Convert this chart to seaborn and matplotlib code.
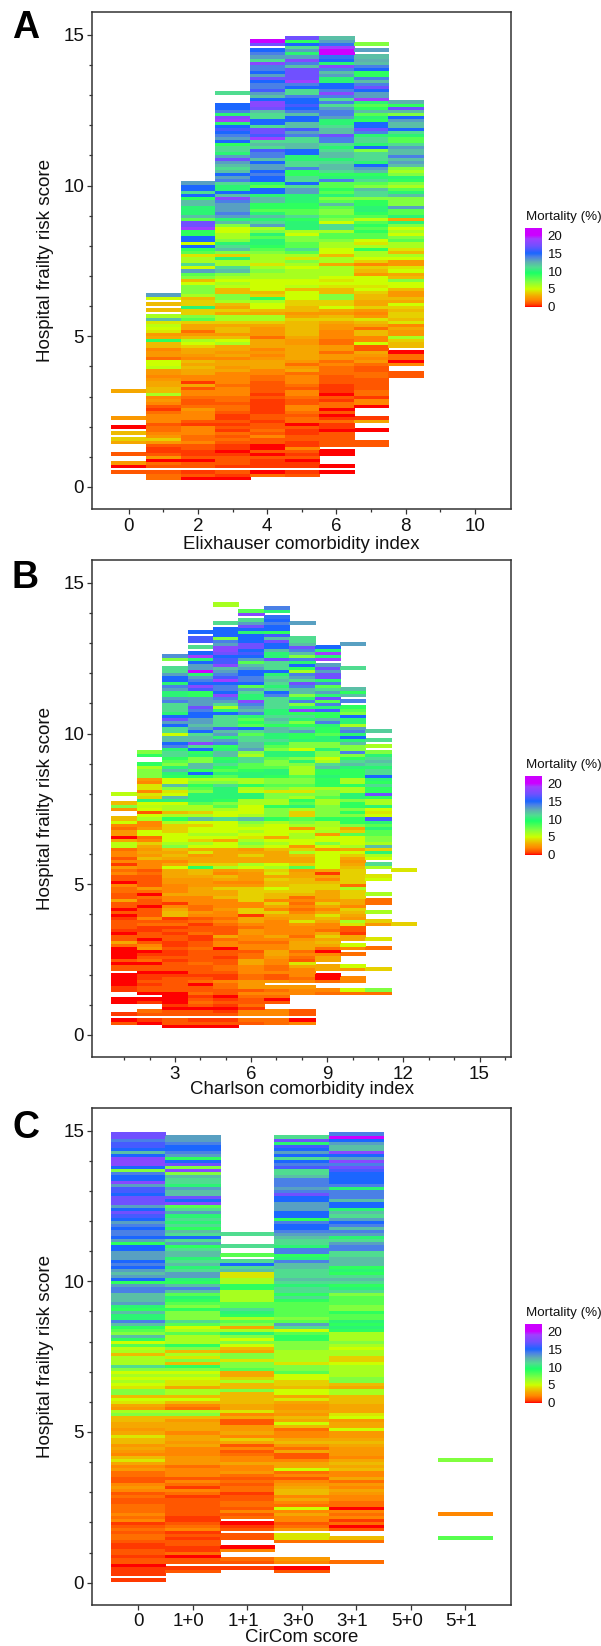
import numpy as np
import pandas as pd
import matplotlib.pyplot as plt
import seaborn as sns
from matplotlib.colors import LinearSegmentedColormap
from matplotlib.transforms import ScaledTranslation

_ = np.nan

# mortality (%) per 0.1 step of frailty score, each line is one score unit
elix_0 = [_,_,_,_,_,1,_,0,2.5,_,
 _,1,_,_,_,3,4,_,3.5,_,
 0,_,_,2.5,_,_,_,_,_,_,
 _,_,3]
elix_1 = [_,_,_,1.5,1.5,1,_,1,1.5,0,
 2.5,1,.5,.5,1,2.5,4,2.5,2,1.5,
 1.5,1,2,2,2,1.5,.5,1,2,2.5,
 2,6,3.5,3.5,3,3,2.5,2,2.5,2.5,
 5.5,5,5,1.5,2.5,2.5,2,3.5,3.5,9,
 3,2.5,4.5,5,5.5,4.5,12,6,_,3.5,
 _,3.5,_,5,13]
elix_2 = [_,_,_,0,1,.5,_,1,1,0,
 1,.5,.5,1,1,2,1.5,1.5,2,2,
 2,.5,1,2,2,2,2.5,1.5,1,1,
 1.5,2,2,1,3,.5,2,2,3,3,
 3.5,3,3.5,2,2.5,3,3,4,5,6,
 3.5,2.5,1.5,3,3,4,8,7,4,4,
 10,4,4,3.5,6,7,7,7,5,3.5,
 7,8,13,5,11,6,6,4.5,8,9,
 15,5,15,15,9,9,19,17,17,8,
 12,10,10,10,12,12,9,15,11,15,
 15,13]
elix_3 = [_,_,_,0,.5,1,_,.5,1,1,
 1,.5,0,.5,.5,1,1.5,1,1.5,.5,
 1,.5,1,.5,.5,1,1.5,1.5,1,1.5,
 1.5,2,2,2,1.5,2,2,2,2,3,
 2.5,3,3,2,3,2.5,3,3,6,5,
 3.5,2.5,3.5,3.5,3,4,6,6,3,4,
 3,3.5,6,7,7,3.5,3.5,5.5,6,5,
 6,7,12,11,6,6,10,4,7,12,
 11,10,7,6,6,5,5,7,12,10,
 13,14,13,13,13,14,18,12,15,10,
 10,11,14,13,15,12,11,12,13,17,
 13,10,11,11,9,15,13,14,15,16,
 15,10,19,18,10,14,15,15,_,_,
 _,11]
elix_4 = [_,_,_,_,1.5,0,_,.5,.5,.5,
 1,0,1,0,0,1,1,2,1,1.5,
 1,1,.5,1,1,.5,.5,.5,.5,.5,
 1,.5,1,1,1,1,1.5,1.5,2,2,
 3,3,3,2.5,2,2.5,2,3,3,3,
 1.5,2.5,2.5,2.5,3,4,6,6,3,3.5,
 5,5,6,9,4,3.5,5,5,5,5,
 6,6,7,6,4.5,6,6,6,7,8,
 9,10,10,8,10,7,6,13,11,10,
 12,10,8,9,9,12,12,10,15,15,
 8,10,15,15,14,15,13,13,15,12,
 14,14,16,11,12,11,19,16,17,17,
 11,15,15,11,11,12,17,18,18,15,
 12,13,16,14,14,15,17,13,15,14,
 14,18,11,13,14,15,_,17,20]
elix_5 = [_,_,_,_,1,.5,_,.5,.5,0,
 1,.5,1,2,.5,.5,1,1,.5,.5,
 1,0,1.5,1.5,1,1.5,2,2,1,1,
 1.5,2,2,1,1.5,2,2,2,1.5,3,
 2.5,1.5,2.5,3,3,3,3,3,2.5,2.5,
 3,3.5,3.5,3.5,3.5,3.5,4,3,2.5,3.5,
 3.5,4,4,5,5,5,3.5,5.5,5,5,
 6,6,6,5,6,7,4.5,6,8,11,
 8,8,7,7,5,6,10,10,10,9,
 11,8,8,9,9,10,10,10,13,13,
 11,15,11,11,9,9,14,11,11,10,
 10,15,15,12,12,11,11,14,13,16,
 12,12,15,15,12,14,15,16,15,15,
 14,11,11,15,14,19,17,17,17,17,
 12,14,18,13,10,13,11,15,9,17]
elix_6 = [_,_,_,_,_,0,_,0,_,_,
 _,0,0,_,1,1,1,1,1,0,
 .5,.5,1.5,.5,0,1,0,1.5,1.5,.5,
 1,0,.5,.5,.5,1,1,1,1.5,1.5,
 1.5,2,1.5,2.5,2.5,1.5,2.5,2.5,1.5,1.5,
 2,2,2,2.5,2.5,3,4,3.5,2.5,3,
 5,4,4,7,7,3.5,3.5,4.5,5,4.5,
 5,6,6,6,3,6,6,3.5,5,5,
 6,6,7,8,8,6,11,11,5,7,
 8,7,7,8,12,8,7,10,8,9,
 8,8,14,10,9,11,12,12,11,10,
 12,12,11,10,11,14,14,17,12,12,
 11,10,10,13,14,14,13,11,14,11,
 14,18,14,15,15,10,10,13,12,14,
 18,10,15,14.5,20,20,19,14.5,13,12]
elix_7 = [_,_,_,_,_,_,_,_,_,_,
 _,_,_,_,1,1,_,_,_,0,
 _,_,3,.5,_,_,_,0,2,2,
 .5,1.5,1.5,1,1,1,1,1.5,1.5,1,
 1,1.5,2.5,2,2.5,3,1,1,5,2,
 2,3.5,3.5,1.5,3,3.5,4.5,2.5,2,2.5,
 4,3,3,3.5,3.5,4,5,4.5,5,5,
 5,2.5,3.5,4,2,4,5,6,6,9,
 6,4.5,5,8,8,9,8,9,8,5.5,
 8,9,10,10,9,9,7,11,11,12,
 7,8,11,10,9,12,13,15,10,11,
 11,11,7,15,10,11,11,10,14,17,
 15,15,9,10,8,12,9,8,10,19,
 13,13,15,17,14,12,14,9,9,15,
 14,12,12.5,12,_,13,_,7]
elix_8 = [_]*37 + [1,1,_,
 _,2,0,1.5,1.5,0,_,3.5,3.5,4,
 6,2.5,2.5,3,2,4.5,3.5,4,4,3.5,
 4,5,3,3.5,2.5,2.5,3.5,5,5,7,
 3.5,3,5,4.5,2.5,2.5,5,6,3.5,4.5,
 6,6,8,7,5,6,5,7,10,3,
 10,8,8,13,7,7,7,12,10,8,
 6,7,9,10,7,6,7,12,13,12,
 14,12,12,13,11,8,8,10,11,15,
 12,12,13,15,7,12,17,9,12.5]

charl_1 = [_,_,_,_,1,0,_,.5,_,_,
 _,0,0,_,_,.5,.5,0,0,0,
 0,_,1,1,0,1,0,0,0,0,
 1.5,3,1,1,0,.5,1,1,1,.5,
 0,1,0,1,1,3,1,1,1.5,1.5,
 2,0,1,1,2,1.5,2.5,.5,2,1,
 2,2,1.5,5.5,5.5,3,0,2.5,2.5,1.5,
 2,5,3.5,_,_,2.5,7,3.5,_,_,
 5.5]
charl_2 = [_,_,_,_,0,.5,_,1,1.5,_,
 _,.5,0,_,0,1,1,.5,1,.5,
 .5,0,1,1,0,1.5,1,.5,0,2.5,
 2,1,0,1,1,.5,.5,1.5,1,2,
 1,1,1,0,1,1,1.5,0,1.5,2.5,
 1,1,1,1,1.5,1,2,2,2,3.5,
 2.5,3,2.5,3,4,2,1.5,5,5,2.5,
 2,2,6,5,1,5,5.5,5,10,4,
 4.5,2,4.5,4.5,2,2.5,7,7,7,6,
 9,_,_,9,7]
charl_3 = [_,_,_,0,1,1,_,1,1,0,
 .5,0,0,0,0,1,1,1,1,1,
 .5,0,1,1,1,.5,1,.5,.5,1,
 .5,.5,1,1,.5,1,.5,1.5,1,.5,
 3.5,3.5,3,2,.5,2,2,3,2,2,
 2,2.5,2.5,3,3,3,5,3,2,3,
 3.5,3,3.5,7,6,5,5,5,4,4,
 4,6,9,6,3.5,6,6,5,10,12,
 5,4.5,7,12,5,5,9,10,12,10,
 7,8,9,11,11,10,14,15,12,12,
 5,11,11,15,13,17,15,10,11,11,
 11,14,13,10,10,13,14,10,15,15,
 13,11,11,_,_,7,13.5]
charl_4 = [_,_,_,0,1,.5,_,1,1,0,
 1,1.5,1,.5,1.5,1,1,0,1.5,1,
 .5,1,1,1,1.5,1,1,1,1,1.5,
 1,1,.5,.5,1.5,1,1,.5,1.5,1,
 2,2.5,1.5,1.5,2,2,2,3,3,3,
 2.5,2.5,2.5,3,3.5,3.5,9,4,3,3,
 2.5,4.5,3,5,6,4,5,6,5,5,
 4,5,12,6,4,6,6,8,10,10,
 10,7,8,9,7,6,9,15,9,12,
 12,7,7,10,9,15,11,18,12,12,
 11,15,13,12,13,13,15,15,14,17,
 13,13,13,9,9,16,18,15,14,13,
 10,20,13,13,15,10,19,15,_,11,
 _,16,16,_,15]
charl_5 = [_,_,_,0,1,.5,_,1,.5,0,
 .5,1,.5,0,1,1,1.5,1.5,2,.5,
 .5,1,1.5,1.5,1,1,.5,1,1,0,
 2,2,1.5,3,1,1,1,1.5,2,1.5,
 2,2,2.5,2,2,2,3.5,3,3,4,
 2.5,2,3,3.5,2,2.5,6,4,3,3,
 3,3,3,5,5,3,5,6,5,5,
 5,5,11,5,5,6,8,7,9,10,
 10,10,10,11,7,6,8,10,8,9,
 11,10,9,12,12,10,9,14,13,10,
 13,12,16,11,11,11,11,15,10,6,
 11,13,14,18,15,14,14,15,19,16,
 14,13,12,18,16,16,15,17,18,18,
 13,14,7,15,15,15,_,11,_,_,
 _,_,_,6]
charl_6 = [_,_,_,_,1,1.5,_,2,2,.5,
 1.5,1,1,1.5,2,1,2.5,2.5,2.5,1.5,
 1.5,2,2,2,3,3,1.5,1.5,1,2,
 2,1.5,2,2,2.5,2.5,1.5,2,3,3,
 .5,4,4,2,2,4,4,4,4,4,
 2.5,2,2.5,2.5,2.5,3,5,6,3,3,
 4,3,2.5,6,7,6,4.5,5,6,5,
 6,7,12,6,5,5,5,6,6,10,
 10,5.5,6,9,6,6,10,10,9,8,
 8,11,11,6,7,13,12,12,11,11,
 8,11,15,8,9,8,10,14,12,13,
 14,18,10,10,11,13,8,15,14,14,
 15,15,13,12,8,13,15,16,15,17,
 17,15,15,15,10,15,17,13,11,_,
 18,8]
charl_7 = [_,_,_,_,1.5,1.5,_,2,2,_,
 _,1,0,1.5,2,1.5,2.5,_,2.5,1,
 1,2,1.5,1.5,2,2,2.5,3,3,2,
 2,1.5,2,3,2,2,2,2,2,2.5,
 3,4,2,3,4,2,3.5,3.5,4,5,
 3.5,3.5,4,3,4.5,4,6,5,3,3,
 3,3,3.5,5,6,5,3,5,5,5,
 5,6,9,7,7,7,9,6,6,7,
 7,4.5,7,8,7,7,9,10,10,8,
 7,7,8,10,10,7,8,10,11,10,
 10,12,12,9,11,12,11,10,10,11,
 11,11,11,14,15,11,10,11,12,11,
 10,15,11,11,11,17,10,10,12,15,
 15,17,12,16,9,15,15,14,15,14.5,
 _,10,14]
charl_8 = [_,_,_,_,2,0,_,1,1,_,
 _,_,_,_,2,2,2.5,_,2,1.5,
 2,2,2,3,4.5,1,1.5,2,1.5,3,
 3,3,2.5,1.5,2,2,2,2.5,4.5,3,
 3,2,1.5,2,1.5,2,1.5,3.5,4,4,
 4,3.5,3.5,3,3,2.5,8,4,3,3,
 3.5,6,4,2.5,5,5,6,6,5,2.5,
 6,7,8,4,4,6,10,8,9,6,
 7,4.5,6,8,7,7,8,6,6,6,
 7,10,7,10,10,5,7,7,10,9,
 9,13,11,9,7,10,11,9,18,10,
 7,14,10,7,12,12,14,17,11,13,
 14,6,9,15,10,14,7,12,14,17,
 12,11,11,_,_,_,_,13]
charl_9 = [_]*14 + [1.5,2,_,_,1.5,0,
 0,_,3,3,_,3,3,2,0,1.5,
 3,3.5,3,4,3,1.5,2,2,3,3.5,
 4.5,3,2,3,4,2.5,3,3,3,4,
 4,3.5,2,3,.5,3,5,5,5,5,
 5,5,2.5,5,7,5,5,2.5,6,5.5,
 6,6,9,7,7,7,7,6,6,8,
 7,7,6,9,9,9,10,9,9,12,
 11,6,5,7,7,10,7,7,10,10,
 8,9,9,10,14,12,9,9,16,10,
 14,8,17,10,13,11,8,14,10,17,
 17,13,17,13,_,19,10,19,10,15]
charl_10 = [_]*14 + [1.5,5,_,_,2,2,
 _,_,2.5,5,_,_,_,1.5,_,2,
 5,_,3,3,.5,1,1,4.5,6,2.5,
 3,3.5,4,2,3,3,4,4,4,6,
 1.5,4,4,4,4,4,3.5,3,2.5,3,
 4,5,3,6,5,5,5,8,4,3,
 7,9,9,7,9,7,9,9,7,10,
 10,6,6,9,6,6,9,9,9,10,
 12,11,9,7,14,7,7,12,10,15,
 10,14,13,6,10,10,15,7,8,9,
 _,14,_,12,9,12,_,_,_,_,
 _,_,11,_,_,_,_,_,_,_,
 13]
charl_11 = [_]*14 + [1.5,7,_,_,_,_,
 _,_,4,_,_,_,_,_,_,1.5,
 _,_,4.5,_,_,_,_,2.5,4,_,
 _,6,_,_,1.5,1.5,_,6,_,_,
 _,_,5,4.5,_,_,6,11,_,5,
 6,10,4,12,6,7,7,8,8,10,
 8,10,16,5,4.5,5,10,6,6,9,
 17,9,9,11,9,10,15,11,11,10,
 11,12,11,10,7,_,6,_,11,_,
 _,11.5]
charl_12 = [_]*37 + [4] + [_]*17 + [4.5]

circ_0 = [_,.5,_,.5,.5,.5,0,1,1,.5,
 1,1,.5,.5,1,1.5,1.5,1,1.5,1,
 .5,2,1.5,2,1.5,1.5,1.5,1,1,1.5,
 1,2,2.5,2,1,1,1.5,1.5,2.5,2,
 3,4.5,3.5,2,2.5,3,2.5,3.5,3.5,4.5,
 3,2.5,3,3,3.5,3.5,7,6,2.5,3,
 4.5,5,3.5,7,7,4.5,5,6,5,6,
 5,7,11,6,6,6,3.5,6,5.5,8,
 5,9,12,7,8,9,12,14,10,10,
 12,9,10,13,12,12,12,14,14,13,
 9,15,13,12,13,15,14,15,13,13,
 13,15,15,9,13,15,14,14,15,14,
 13,15,16,17,15,13,17,17,17,15,
 16,16,13,18,15,15,14,7,15,18,
 18,18,15,12,15,16,16,14,17,17]
circ_1 = [_,_,_,_,1,.5,_,1,1,0,
 1.5,.5,.5,1,1,.5,1,.5,2,1.5,
 1,.5,.5,1,1,1,1,1,1,.5,
 1.5,2,.5,1.5,2,1,2,2,2,1.5,
 2.5,2.5,2.5,2,2,2,3,2.5,3,3,
 2,3,3,3,2.5,3.5,7,6,1.5,2,
 3.5,5,3.5,6,6,3,4.5,4.5,5,6,
 5,7,9,3.5,7,4.5,6,3.5,7,9,
 6,6,6,8,6,5,8,11,7,7,
 7,9,7,8,9,10,8,12,14,12,
 9,10,13,13,11,10,12,11,10,12,
 12,11,9,13,11,15,11,12,9,11,
 10,11,10,13,11,8,18,15,17,12,
 12,13,10,11,11,12,7,18,7,17,
 15,9,13,14,15,15,14,13,13]
circ_2 = [_,_,_,_,_,.5,_,1,1.5,_,
 _,2,0,_,_,1,1,_,1,.5,
 0,_,1.5,1,2,1,1.5,1.5,1,1,
 .5,1.5,1.5,1,1.5,1,1.5,2.5,2,2,
 3,2,2,1.5,1,2,1,3,4,2,
 3,2.5,2.5,1,1,3,2,4.5,3,3,
 3.5,3.5,3.5,3.5,7,3.5,3.5,6,4,3,
 3,8,7,7,4.5,7,7,3,3.5,5,
 7,5,7,10,6,3,7,8,6,9,
 10,11,8,8,6,6,6,6,9,9,
 6,6,4.5,4.5,12,11,15,11,_,8,
 _,_,11,_,_,_,11]
circ_3 = [_,_,_,_,1,0,_,2,2.5,_,
 _,_,_,_,1.5,4.5,4.5,_,2.5,1.5,
 1,2,2,3,2,5,1.5,2,3,2,
 3.5,3.5,3,2.5,2,1,2,1.5,5,3,
 3,2,1,1,3,1.5,2.5,3.5,3,2,
 2,1.5,3.5,5,3,3.5,2.5,3,2.5,2.5,
 3,4.5,3,5,5,3.5,4,4,5,5,
 8,7,7,4.5,6,6,6,6,7,7,
 7,9,9,8,5,11,13,8,7,8,
 8,8,8,8,9,11,9,11,11,10,
 11,12,11,11,11,12,12,14,10,9,
 14,14,10,11,11,12,13,14,15,15,
 14,9,15,15,13,13,13,15,15,17,
 14,13,14,14,14,12,11,11,16,14,
 15,11,15,13,15,16,10,17,11]
circ_4 = [_,_,_,_,_,_,_,1.5,_,_,
 _,_,_,_,1.5,3.5,_,_,1,0,
 1.5,.5,2,1.5,2,0,1.5,1.5,2,2,
 2.5,3,2,2.5,1.5,3,2,2,3.5,3,
 3.5,3,2,2.5,2.5,2.5,3,3.5,3,2.5,
 2.5,5,3,3,2.5,5,4.5,3,3,3,
 3.5,3.5,3.5,6,6,3,3.5,7,7,6,
 6,6,6,5,4,4,6,6,5,6,
 7,6,6,6,9,10,9,10,8,8,
 9,7,7,8,8,8,7,11,10,9,
 11,12,11,9,10,9,12,12,12,11,
 11,14,14,13,11,10,13,14,12,14,
 15,13,11,12,10,15,15,12,14,14,
 14,10,14,15,15,15,15,16,17,14,
 18,13,15,18,12,12,13,15,20,14]
circ_5 = []
circ_6 = [_]*15 + [8] + [_]*7 + [2] + [_]*17 + [7]

elix_x = [0, 1, 2, 3, 4, 5, 6, 7, 8]
charl_x = [1, 2, 3, 4, 5, 6, 7, 8, 9, 10, 11, 12]
circ_labels = ['0', '1+0', '1+1', '3+0', '3+1', '5+0', '5+1']

mort_stops = [0, 0.5, 1, 2, 3, 4, 5, 7, 9.5, 11, 12.5, 14, 15, 17, 19, 20, 22]
mort_colors = ['#ff0000', '#ff3c00', '#ff5800', '#ff8800', '#f5a800', '#e6d000', '#ccff00', '#80ff40',
               '#1aff66', '#50dd90', '#5fb0b0', '#4a80e6', '#1a66ff', '#7050ff', '#a040ff',
               '#cc00ff', '#cc00ff']
mort_cmap = LinearSegmentedColormap.from_list(
    'mort', [(s / 22, c) for s, c in zip(mort_stops, mort_colors)], N=512)

W, H = 601, 1646
AX_LEFT, AX_RIGHT = 92.4, 511
sns.set_theme(style='white')
plt.rcParams['font.family'] = ['Liberation Sans', 'DejaVu Sans']


def px_axes(fig, left, top, right, bottom):
    return fig.add_axes([left / W, 1 - bottom / H, (right - left) / W, (bottom - top) / H])


def draw_panel(fig, columns, names, top, xlim, xticks, xminor, xticklabels, xlabel, label_gap, letter, letter_y, leg_top):
    df = pd.DataFrame({n: pd.Series(c, dtype=float) for n, c in zip(names, columns)})
    df = df.reindex(range(150))
    ax = px_axes(fig, AX_LEFT, top, AX_RIGHT, top + 497.3)
    cax = px_axes(fig, 525, leg_top, 542, leg_top + 80)
    # face coloured edges make the tiles a bit taller than their row, as in the reference
    sns.heatmap(df, ax=ax, cmap=mort_cmap, vmin=0, vmax=22, cbar_ax=cax, linewidths=0.6, linecolor='face',
                cbar_kws={'ticks': [0, 5, 10, 15, 20]}, xticklabels=False, yticklabels=False)

    # heatmap cells sit on index positions, row k is score k/10
    ax.set_ylim(-0.74 * 10 + 0.5, 15.76 * 10 + 0.5)
    ax.set_yticks([y * 10 + 0.5 for y in [0, 5, 10, 15]], labels=['0', '5', '10', '15'])
    ax.set_yticks([y * 10 + 0.5 for y in range(0, 16) if y % 5], minor=True)
    first = names[0] if isinstance(names[0], int) else 0
    ax.set_xlim(xlim[0] - first + 0.5, xlim[1] - first + 0.5)
    ax.set_xticks([x - first + 0.5 for x in xticks], labels=xticklabels)
    ax.set_xticks([x - first + 0.5 for x in xminor], minor=True)
    ax.tick_params(axis='both', which='major', length=3.5, width=0.9, color='#333333',
                   labelsize=13.5, labelcolor='#111111', pad=2.5, bottom=True, left=True, rotation=0)
    ax.tick_params(axis='both', which='minor', length=2.2, width=0.9, color='#333333',
                   bottom=True, left=True)
    for s in ax.spines.values():
        s.set_visible(True)
        s.set_color('#333333')
        s.set_linewidth(1.1)
    ax.set_xlabel(xlabel, fontsize=13.4, color='#111111', va='center')
    ax.xaxis.set_label_coords(0.5, -label_gap / 497.3)
    ax.set_ylabel('Hospital frailty risk score', fontsize=13.6, color='#111111', va='center')
    ax.yaxis.set_label_coords(-(AX_LEFT - 46) / (AX_RIGHT - AX_LEFT), 0.5)

    cbar = ax.collections[0].colorbar
    cbar.outline.set_visible(False)
    cax.set_ylim(-0.3, 22)
    cax.tick_params(axis='y', direction='in', left=True, right=True, length=2.5, width=0.7,
                    color='white', labelsize=9.6, labelcolor='#111111', pad=4)
    fig.text(526 / W, 1 - (leg_top - 11) / H, 'Mortality (%)', fontsize=9.6, color='#111111',
             ha='left', va='center')
    fig.text(12 / W, 1 - letter_y / H, letter, fontsize=27, fontweight='bold', color='black',
             ha='left', va='center')
    return ax


fig = plt.figure(figsize=(W / 100, H / 100), dpi=100)
draw_panel(fig, [elix_0, elix_1, elix_2, elix_3, elix_4, elix_5, elix_6, elix_7, elix_8], elix_x,
           12, (-1.05, 11.04), [0, 2, 4, 6, 8, 10], [1, 3, 5, 7, 9],
           ['0', '2', '4', '6', '8', '10'], 'Elixhauser comorbidity index', 35, 'A', 28, 228)
draw_panel(fig, [charl_1, charl_2, charl_3, charl_4, charl_5, charl_6, charl_7, charl_8, charl_9,
                 charl_10, charl_11, charl_12], charl_x,
           560, (-0.25, 16.24), [3, 6, 9, 12, 15], [1, 2, 4, 5, 7, 8, 10, 11, 13, 14, 16],
           ['3', '6', '9', '12', '15'], 'Charlson comorbidity index', 32, 'B', 578, 776)
ax_c = draw_panel(fig, [circ_0, circ_1, circ_2, circ_3, circ_4, circ_5, circ_6], circ_labels,
                  1107.7, (-0.84, 6.84), range(7), [], circ_labels, 'CirCom score', 33, 'C', 1128, 1324)
# these labels sit a little left of their ticks in the reference
for lab in ax_c.get_xticklabels()[1:]:
    lab.set_transform(lab.get_transform() + ScaledTranslation(-0.038, 0, fig.dpi_scale_trans))

fig.savefig('out.png', dpi=100)
